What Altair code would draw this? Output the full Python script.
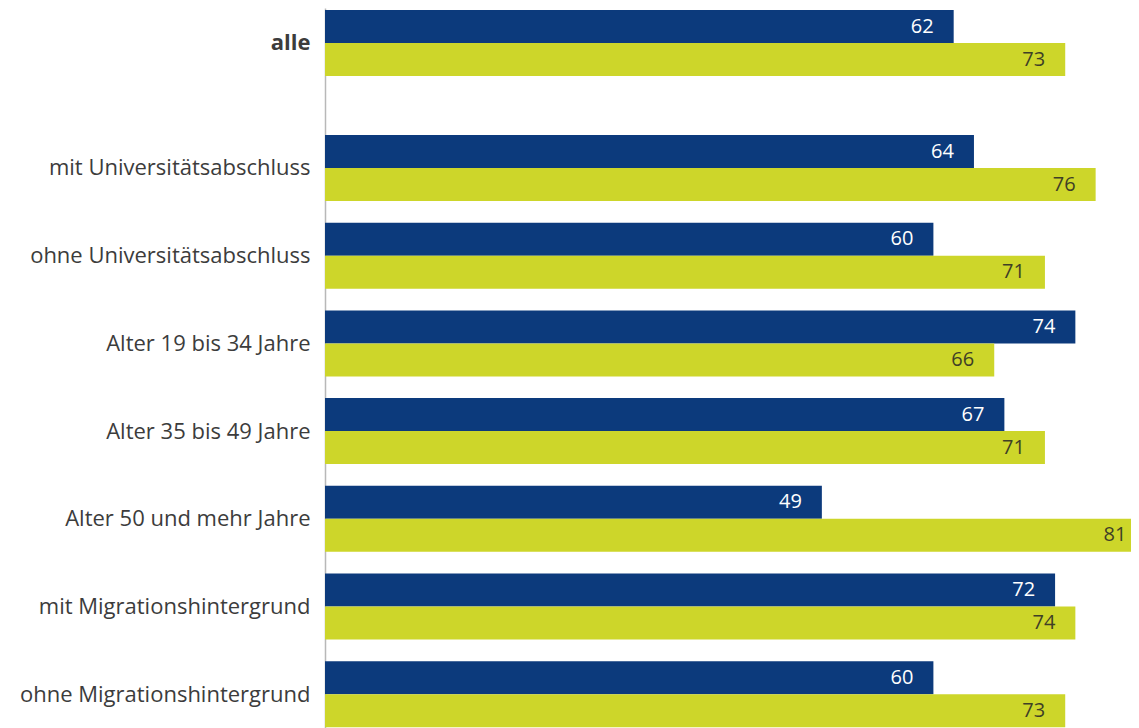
import altair as alt
import pandas as pd

categories = [
    "alle",
    "mit Universitätsabschluss",
    "ohne Universitätsabschluss",
    "Alter 19 bis 34 Jahre",
    "Alter 35 bis 49 Jahre",
    "Alter 50 und mehr Jahre",
    "mit Migrationshintergrund",
    "ohne Migrationshintergrund",
]
series = ["Serie 1", "Serie 2"]
values_1 = [62, 64, 60, 74, 67, 49, 72, 60]
values_2 = [73, 76, 71, 66, 71, 81, 74, 73]
bar_colors = ["#0c3a7c", "#cdd62a"]

rows = []
for c, a, b in zip(categories, values_1, values_2):
    rows.append({"Kategorie": c, "Serie": series[0], "Wert": a})
    rows.append({"Kategorie": c, "Serie": series[1], "Wert": b})
df = pd.DataFrame(rows)

FONT = "Open Sans"
LABEL_FS = 22
VALUE_FS = 20
PLOT_W = 806
X_MAX = PLOT_W / 10.14


def panel(cats, height, p_inner, p_outer, align, bold):
    data = df[df["Kategorie"].isin(cats)]
    base = alt.Chart(data).encode(
        y=alt.Y(
            "Kategorie:N",
            sort=cats,
            title=None,
            scale=alt.Scale(paddingInner=p_inner, paddingOuter=p_outer, align=align),
            axis=alt.Axis(
                domain=True,
                domainColor="#b8b8b8",
                domainWidth=1.5,
                ticks=False,
                labelPadding=15,
                labelFont=FONT,
                labelFontSize=LABEL_FS,
                labelFontWeight="bold" if bold else "normal",
                labelColor="#3c3c3c",
                labelLimit=400,
                minExtent=317,
                maxExtent=317,
            ),
        ),
        yOffset=alt.YOffset("Serie:N", sort=series),
        x=alt.X(
            "Wert:Q",
            axis=None,
            scale=alt.Scale(domain=[0, X_MAX], nice=False, zero=True),
        ),
    )
    bars = base.mark_bar(clip=True).encode(
        color=alt.Color(
            "Serie:N", scale=alt.Scale(domain=series, range=bar_colors), legend=None
        )
    )
    text = base.mark_text(
        align="right", baseline="middle", dx=-20, clip=True, font=FONT, fontSize=VALUE_FS
    ).encode(
        text="Wert:Q",
        color=alt.condition(
            alt.datum.Serie == series[0], alt.value("#ffffff"), alt.value("#3f3f26")
        ),
    )
    return alt.layer(bars, text).properties(width=PLOT_W, height=height)


top = panel(categories[:1], 127, 0, 0.4621, 0.0328, True)
bottom = panel(categories[1:], 593, 21 / 88, 0, 0, False)

chart = (
    alt.vconcat(top, bottom, spacing=0)
    .properties(padding=0)
    .configure_view(stroke=None)
)

chart.save("out.html", embed_options={"renderer": "svg", "actions": False})
